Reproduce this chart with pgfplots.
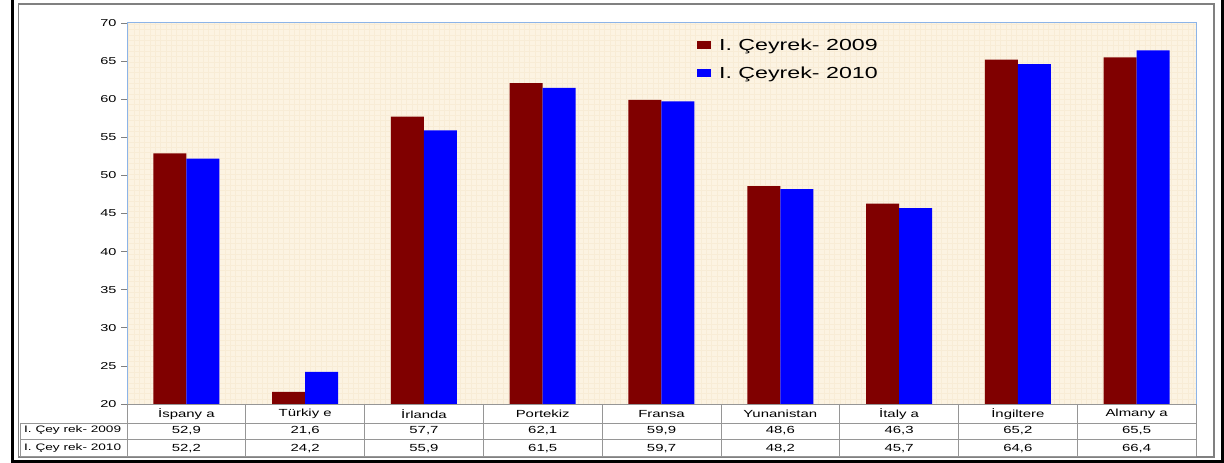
\documentclass[border=0pt]{standalone}
\usepackage{pgfplots}
\pgfplotsset{compat=1.18}
\usepackage{fontspec}
\setmainfont[FakeStretch=1.45]{Liberation Sans}
\definecolor{cream}{RGB}{252,243,226}
\definecolor{creamgrid}{RGB}{248,236,214}
\definecolor{maroonbar}{RGB}{128,0,0}
\definecolor{bluebar}{RGB}{0,0,255}
\definecolor{axblue}{RGB}{140,180,232}
\definecolor{framegray}{RGB}{128,128,128}
\definecolor{tablegray}{RGB}{150,150,150}
\begin{document}
\begin{tikzpicture}[x=1pt,y=1pt]
\path[use as bounding box] (0,0) rectangle (1224,463);
% plot background
\fill[cream] (127,59) rectangle (1196,440);
\draw[creamgrid, line width=0.4pt, step=5.35] (127,59) grid (1196,440);
% outer frames
\draw[framegray, line width=1.5pt] (18.5,6) rectangle (1214,459);
\draw[black, line width=3pt] (12,463) -- (12,1.5) -- (1222,1.5) -- (1222,463);
\begin{axis}[
  at={(127pt,59pt)}, anchor=south west,
  scale only axis, width=1069pt, height=381pt,
  xmin=-0.5, xmax=8.5, ymin=20, ymax=70,
  ybar=0pt, bar width=33pt,
  xtick=\empty,
  ytick={20,25,...,70},
  ytick pos=left, tick align=outside, major tick length=6pt,
  tick style={draw=framegray, line width=0.6pt},
  yticklabel style={font=\fontsize{10}{12}\selectfont, xshift=-1pt},
  /pgf/number format/assume math mode=true,
  axis line style={draw=none},
  clip=false,
  legend style={at={(0.5313,0.970)}, anchor=north west, draw=none, fill=none,
    font=\fontsize{16}{19}\selectfont, row sep=11pt, inner sep=2pt},
  legend cell align=left,
  legend image code/.code={\fill[#1] (0pt,-4pt) rectangle (14pt,4pt); \path (20pt,0pt);},
]
\addplot[fill=maroonbar, draw=none] coordinates {
 (0,52.9) (1,21.6) (2,57.7) (3,62.1) (4,59.9) (5,48.6) (6,46.3) (7,65.2) (8,65.5)};
\addplot[fill=bluebar, draw=none] coordinates {
 (0,52.2) (1,24.2) (2,55.9) (3,61.5) (4,59.7) (5,48.2) (6,45.7) (7,64.6) (8,66.4)};
\legend{I. Çeyrek- 2009, I. Çeyrek- 2010}
\end{axis}
% axis lines
\draw[axblue, line width=1pt] (127,59) -- (127,440) -- (1196,440) -- (1196,59);
% table
\draw[tablegray, line width=0.8pt] (127,59) -- (1196,59);
\draw[tablegray, line width=0.8pt] (20,40) -- (1196,40);
\draw[tablegray, line width=0.8pt] (20,24) -- (1196,24);
\draw[tablegray, line width=0.8pt] (20,6.5) -- (1196,6.5);
\draw[tablegray, line width=0.8pt] (20,40) -- (20,6.5);
\foreach \k in {0,...,9} {
  \draw[tablegray, line width=0.8pt] ({127+\k*118.78},59) -- ({127+\k*118.78},6.5);
}
\node[anchor=west, font=\fontsize{9.4}{11}\selectfont, inner sep=0pt] at (24,32.5) {I. Çey rek- 2009};
\node[anchor=west, font=\fontsize{9.4}{11}\selectfont, inner sep=0pt] at (24,14.5) {I. Çey rek- 2010};
\foreach \lab/\a/\b [count=\i from 0] in {İspany a/{52,9}/{52,2}, Türkiy e/{21,6}/{24,2}, İrlanda/{57,7}/{55,9}, Portekiz/{62,1}/{61,5}, Fransa/{59,9}/{59,7}, Yunanistan/{48,6}/{48,2}, İtaly a/{46,3}/{45,7}, İngiltere/{65,2}/{64,6}, Almany a/{65,5}/{66,4}} {
  \node[font=\fontsize{10.3}{12}\selectfont, inner sep=0pt] at ({186.4+\i*118.78},49) {\lab};
  \node[font=\fontsize{10.3}{12}\selectfont, inner sep=0pt] at ({186.4+\i*118.78},32.5) {\a};
  \node[font=\fontsize{10.3}{12}\selectfont, inner sep=0pt] at ({186.4+\i*118.78},14.5) {\b};
}
\end{tikzpicture}
\end{document}
